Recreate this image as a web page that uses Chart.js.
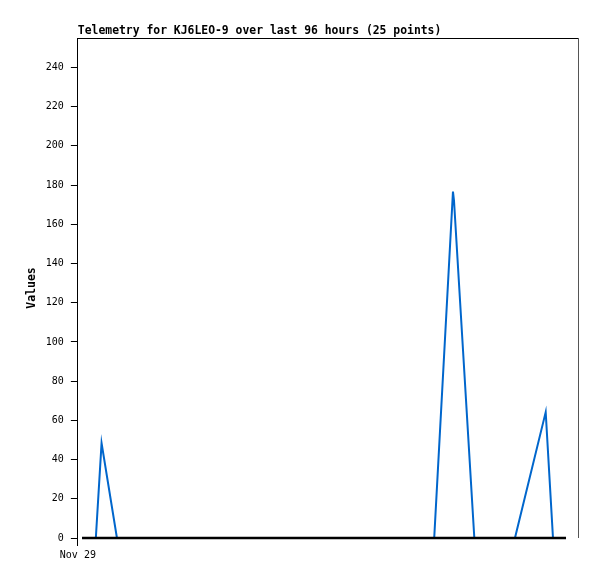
<!DOCTYPE html>
<html>
<head>
<meta charset="utf-8">
<script src="https://cdn.jsdelivr.net/npm/chart.js@4.4.0/dist/chart.umd.min.js"></script>
<style>
  body { margin: 0; background: #fff; }
  #wrap { width: 597px; height: 579px; }
</style>
</head>
<body>
<div id="wrap"><canvas id="chart" width="597" height="579"></canvas></div>
<script>
// data (hours since Nov 29 00:00)
const hours = [0.8, 2.1, 3.45, 4.55, 7.5, 11.0, 15.5, 20.0, 24.5, 29.0, 33.5, 38.0, 42.5,
  47.0, 51.5, 56.0, 60.5, 64.5, 68.4, 72.0, 72.2, 76.1, 83.9, 89.8, 91.2];
const values = [0, 0, 0, 48.4, 0, 0, 0, 0, 0, 0, 0, 0, 0,
  0, 0, 0, 0, 0, 0, 176.7, 172, 0, 0, 64.2, 0];
const baseline = [[0.8, 0], [93.7, 0]];
const yTicks = [0, 20, 40, 60, 80, 100, 120, 140, 160, 180, 200, 220, 240];
const xLabel = 'Nov 29';
const title = 'Telemetry for KJ6LEO-9 over last 96 hours (25 points)';

const mono = '"DejaVu Sans Mono", "Liberation Mono", monospace';

// title + frame drawn by hand so it lines up with the plot area
const framePlugin = {
  id: 'frame',
  afterDraw(chart) {
    const c = chart.ctx, a = chart.chartArea;
    c.save();
    c.lineWidth = 1;
    c.strokeStyle = '#000';
    c.beginPath();
    c.moveTo(a.left, a.top + 0.5);
    c.lineTo(a.right, a.top + 0.5);
    c.stroke();
    c.strokeStyle = '#555';
    c.beginPath();
    c.moveTo(a.right + 0.5, a.top);
    c.lineTo(a.right + 0.5, a.bottom);
    c.stroke();
    c.fillStyle = '#000';
    c.font = 'bold 11.4px ' + mono;
    c.textBaseline = 'alphabetic';
    c.fillText(title, a.left, a.top - 4);
    c.restore();
  }
};

new Chart(document.getElementById('chart'), {
  type: 'line',
  data: {
    datasets: [{
      data: baseline.map(p => ({ x: p[0], y: p[1] })),
      borderColor: '#000',
      borderWidth: 2.5,
      pointRadius: 0,
      clip: false,
      order: 0
    }, {
      data: hours.map((h, i) => ({ x: h, y: values[i] })),
      borderColor: '#0066cc',
      borderWidth: 2,
      pointRadius: 0,
      tension: 0,
      clip: false,
      order: 1
    }]
  },
  options: {
    responsive: false,
    animation: false,
    layout: { padding: { top: 38, right: 19, left: 25, bottom: 15 } },
    plugins: { legend: { display: false }, tooltip: { enabled: false } },
    scales: {
      x: {
        type: 'linear',
        min: 0,
        max: 96,
        afterBuildTicks: s => { s.ticks = [{ value: 0 }]; },
        ticks: {
          callback: () => xLabel,
          color: '#000',
          font: { family: mono, size: 10 },
          maxRotation: 0,
          padding: 3
        },
        grid: { drawOnChartArea: false, tickLength: 8, color: '#000' },
        border: { display: false }
      },
      y: {
        min: 0,
        max: 255,
        afterBuildTicks: s => { s.ticks = yTicks.map(v => ({ value: v })); },
        ticks: {
          color: '#000',
          font: { family: mono, size: 10 },
          padding: 7
        },
        grid: { drawOnChartArea: false, tickLength: 7, color: '#000' },
        border: { color: '#000', width: 1 },
        title: {
          display: true,
          text: 'Values',
          color: '#000',
          font: { family: mono, size: 11.5, weight: 'bold' },
          padding: { top: 0, bottom: 0 }
        }
      }
    }
  },
  plugins: [framePlugin]
});
</script>
</body>
</html>
